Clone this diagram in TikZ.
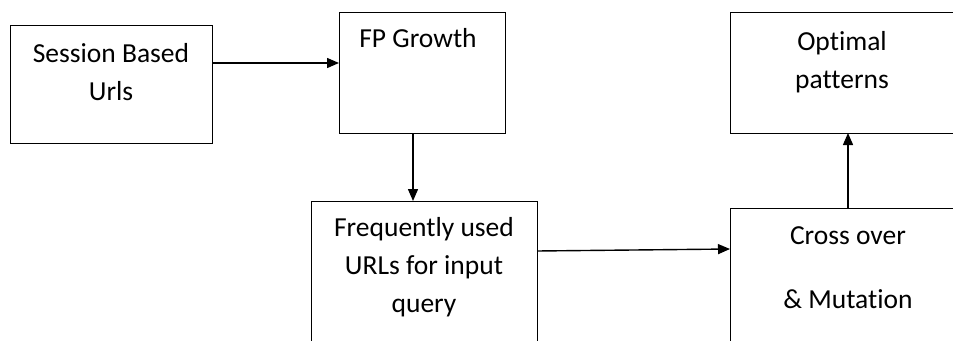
\documentclass[tikz,border=0pt]{standalone}
\usepackage{fontspec}
\setmainfont{Carlito}[Ligatures={NoCommon}]
\usetikzlibrary{arrows.meta}
\begin{document}
\begin{tikzpicture}[x=1pt,y=-1pt,
  box/.style={draw,line width=1.4pt,rectangle,anchor=north west,inner sep=0pt},
  txt/.style={align=center,font=\fontsize{27.5}{38}\selectfont,inner sep=0pt},
  conn/.style={line width=1.4pt,-{Triangle[length=12pt,width=10pt]}}]
\useasboundingbox (0,0) rectangle (953,340);
\begin{scope}
\clip (0,0) rectangle (953,340);
\node[box,minimum width=202pt,minimum height=118pt] (s) at (10,25) {};
\node[box,minimum width=166pt,minimum height=121pt] (f) at (339,12) {};
\node[box,minimum width=236pt,minimum height=121pt] (o) at (730,12) {};
\node[box,minimum width=226pt,minimum height=160pt] (q) at (311,201) {};
\node[box,minimum width=236pt,minimum height=160pt] (c) at (730,208) {};
\end{scope}
\node[txt] (st) at (111,72) {Session Based\\Urls};
\node[txt] (ft) at (418,38) {FP Growth};
\node[txt] (ot) at (842,62) {Optimal\\patterns};
\node[txt] (qt) at (424,267) {Frequently used\\URLs for input\\query};
\node[txt] (ct1) at (848,236) {Cross over};
\node[txt] (ct2) at (848,299) {\& Mutation};
\coordinate (a1) at (212,63);
\coordinate (b1) at (339,63);
\draw[conn] (a1) -- (b1);
\coordinate (a2) at (413,133);
\coordinate (b2) at (413,201);
\draw[conn] (a2) -- (b2);
\coordinate (a3) at (537,251);
\coordinate (b3) at (730,249);
\draw[conn] (a3) -- (b3);
\coordinate (a4) at (848,208);
\coordinate (b4) at (848,133);
\draw[conn] (a4) -- (b4);
\end{tikzpicture}
\end{document}
